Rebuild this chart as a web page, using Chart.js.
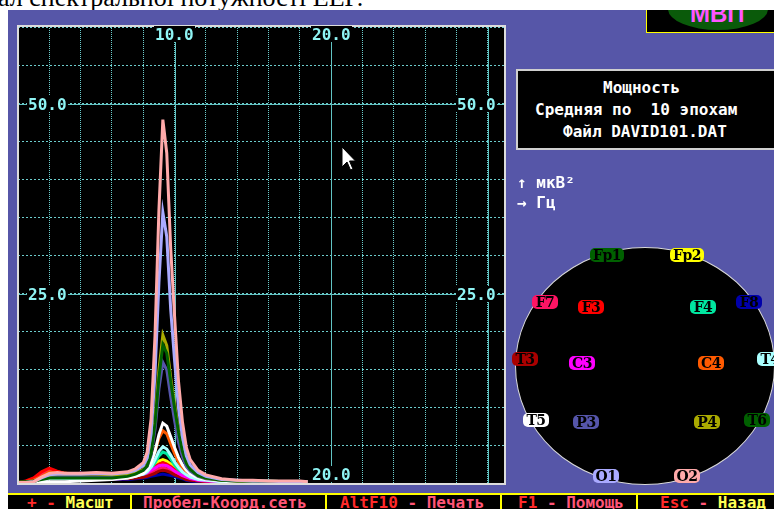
<!DOCTYPE html>
<html lang="ru">
<head>
<meta charset="utf-8">
<title>Мощность — средняя по 10 эпохам</title>
<script src="https://cdn.jsdelivr.net/npm/chart.js@4.4.1/dist/chart.umd.min.js"></script>
<style>
  html, body { margin: 0; padding: 0; }
  body { width: 774px; height: 509px; position: relative; overflow: hidden; background: #fff; }
  .abs { position: absolute; }
  #caption { left: -2px; top: -15px; z-index: 0; font: 26px/26px 'Liberation Serif', serif; color: #000; white-space: nowrap; }
  #panel { left: 8px; top: 10px; width: 766px; height: 499px; background: #5656a8; z-index: 1; }
  #chartWrap { left: 0; top: 0; width: 774px; height: 509px; z-index: 2; }
  .ov { z-index: 3; }
  .dos { font: bold 16px/19px 'DejaVu Sans Mono', monospace; white-space: pre; color: #fff; }
  #mvp { left: 646px; top: 10px; width: 128px; height: 23px; box-sizing: border-box; background: #000;
         border-left: 1px solid #ffff00; border-bottom: 1px solid #ffff00; overflow: hidden; }
  #mvp .ell { left: 21px; top: -22px; width: 100px; height: 42px; border-radius: 50%; background: #0a5a0a; }
  #mvp .txt { left: 43px; top: -8px; font: bold 24px/24px 'Liberation Sans', sans-serif; color: #ff55ff; }
  #infoBox { left: 516px; top: 69px; width: 270px; height: 81px; box-sizing: border-box; background: #000; border: 2px solid #cfcfcf; }
  #head { left: 515px; top: 247px; width: 260px; height: 238px; box-sizing: border-box; border-radius: 50%;
          background: #000; border: 1px solid #d8d8d8; }
  .el { height: 14px; border-radius: 5px; font: bold 14px/14px 'DejaVu Serif', serif; color: #000; text-align: center; letter-spacing: -0.5px; }
  #bar { left: 8px; top: 493px; width: 766px; height: 16px; background: #000; border-top: 2px solid #ffff00; }
  .sep { top: 495px; width: 2px; height: 14px; background: #ffff00; }
  .r { color: #ff2a2a; } .y { color: #ffff55; } .p { color: #ff5577; }
</style>
</head>
<body>
<div id="caption" class="abs">ал спектральної потужності ЕЕГ.</div>
<div id="panel" class="abs"></div>
<div id="chartWrap" class="abs"><canvas id="powerChart"></canvas></div>

<div id="mvp" class="abs ov"><div class="abs ell"></div><div class="abs txt">МВП</div></div>
<div id="infoBox" class="abs ov"></div>
<div class="abs ov dos" style="left:603px;top:78px">Мощность</div>
<div class="abs ov dos" style="left:535px;top:100px">Средняя по  10 эпохам</div>
<div class="abs ov dos" style="left:563px;top:122px">Файл DAVID101.DAT</div>
<div class="abs ov dos" style="left:517px;top:173px">↑ мкВ²</div>
<div class="abs ov dos" style="left:517px;top:193px">→ Гц</div>
<div id="head" class="abs ov"></div>
<div id="electrodes"></div>

<svg class="abs ov" style="left:341px;top:146px" width="16" height="26" viewBox="0 0 16 26">
  <path d="M1 1 L1 21 L6 16 L9.5 24 L12 23 L8.5 15 L14.5 15 Z" fill="#fff" stroke="#000" stroke-width="1"/>
</svg>

<div id="bar" class="abs ov"></div>
<div class="abs ov sep" style="left:130px"></div>
<div class="abs ov sep" style="left:325px"></div>
<div class="abs ov sep" style="left:500px"></div>
<div class="abs ov sep" style="left:636px"></div>
<div class="abs ov dos" style="left:27px;top:493px"><span class="r">+ - </span><span class="y">Масшт</span></div>
<div class="abs ov dos" style="left:143px;top:493px"><span class="p">Пробел-Коорд.сеть</span></div>
<div class="abs ov dos" style="left:340px;top:493px"><span class="r">AltF10</span><span class="p"> - Печать</span></div>
<div class="abs ov dos" style="left:518px;top:493px"><span class="r">F1</span><span class="p"> - Помощь</span></div>
<div class="abs ov dos" style="left:660px;top:493px"><span class="r">Esc</span><span class="p"> - </span><span class="y">Назад</span></div>

<script>
/* ── data: frequency grid (Hz) and power per channel (мкВ²) ── */
const FREQS = [0, 0.5, 1, 1.5, 2, 2.5, 3, 4, 5, 6, 7, 7.5, 8, 8.25, 8.5, 8.75, 9, 9.25, 9.5, 9.75,
               10, 10.25, 10.5, 10.75, 11, 11.5, 12, 13, 14, 15, 16, 17, 18, 18.5];

const CHANNELS  = ['Fp1', 'Fp2', 'F7', 'F3', 'F4', 'F8', 'T3', 'C3', 'C4', 'T4', 'T5', 'P3', 'P4', 'T6', 'O1', 'O2'];
const CH_COLORS = ['#006000', '#ffff00', '#ff1464', '#ff0000', '#00e6a0', '#0000aa', '#aa0000', '#ff00ff',
                   '#ff5a00', '#aaffff', '#ffffff', '#5555aa', '#aaaa00', '#006000', '#aaaaff', '#ffaaaa'];

const FP1 = [0.2,0.3,0.5,1.0,1.5,1.4,1.2,1.0,0.9,0.9,0.9,1.0,1.2,1.4,1.8,2.3,2.7,3.0,2.8,2.4,2.0,1.6,1.2,0.9,0.7,0.5,0.4,0.3,0.3,0.3,0.2,0.2,0.2,0.2];
const FP2 = [0.2,0.3,0.6,1.2,1.7,1.6,1.4,1.2,1.1,1.0,1.0,1.1,1.3,1.6,2.0,2.6,3.0,3.2,3.0,2.6,2.1,1.7,1.3,1.0,0.8,0.6,0.5,0.4,0.3,0.3,0.3,0.3,0.3,0.2];
const F7  = [0.2,0.3,0.7,1.3,1.8,1.5,1.3,1.1,1.0,0.9,0.9,1.0,1.1,1.3,1.5,1.8,2.0,2.2,2.0,1.8,1.5,1.2,1.0,0.8,0.7,0.5,0.4,0.3,0.3,0.3,0.2,0.2,0.2,0.2];
const F3  = [0.2,0.4,0.8,1.6,2.1,1.7,1.4,1.3,1.2,1.1,1.1,1.2,1.4,1.6,1.9,2.3,2.6,2.8,2.6,2.3,1.9,1.5,1.2,1.0,0.8,0.6,0.5,0.4,0.3,0.3,0.3,0.3,0.2,0.2];
const F4  = [0.2,0.2,0.3,0.6,0.9,0.9,0.8,0.8,0.8,0.8,0.9,1.0,1.2,1.5,2.0,2.8,3.7,4.2,4.0,3.3,2.5,1.9,1.4,1.1,0.8,0.6,0.5,0.3,0.3,0.3,0.3,0.2,0.2,0.2];
const F8  = [0.2,0.2,0.4,0.8,1.1,1.2,1.0,0.8,0.7,0.6,0.6,0.7,0.8,0.9,1.0,1.1,1.2,1.3,1.2,1.1,1.0,0.8,0.7,0.5,0.4,0.3,0.3,0.2,0.2,0.2,0.2,0.2,0.2,0.2];
const T3  = [0.2,0.2,0.4,0.7,1.0,0.9,0.8,0.8,0.7,0.7,0.7,0.8,0.9,1.0,1.2,1.4,1.7,1.8,1.7,1.5,1.2,1.0,0.8,0.6,0.5,0.4,0.3,0.3,0.2,0.2,0.2,0.2,0.2,0.2];
const C3  = [0.2,0.2,0.4,0.8,1.2,1.2,1.2,1.4,1.2,1.0,1.0,1.1,1.3,1.5,1.8,2.1,2.4,2.5,2.4,2.1,1.7,1.4,1.1,0.9,0.7,0.5,0.4,0.3,0.3,0.3,0.3,0.2,0.2,0.2];
const C4  = [0.2,0.3,0.5,1.0,1.6,1.4,1.2,1.1,1.0,0.9,1.0,1.2,1.6,2.0,2.9,4.3,6.0,7.0,6.6,5.3,4.0,2.9,2.1,1.5,1.1,0.8,0.6,0.4,0.4,0.3,0.3,0.3,0.3,0.2];
const T4  = [0.2,0.2,0.3,0.5,0.7,0.7,0.7,0.7,0.7,0.7,0.8,1.0,1.3,1.6,2.2,3.2,4.3,4.9,4.6,3.8,2.9,2.2,1.6,1.2,0.9,0.6,0.5,0.3,0.3,0.3,0.3,0.2,0.2,0.2];
const T5  = [0.2,0.2,0.2,0.3,0.3,0.3,0.3,0.4,0.5,0.6,0.8,1.0,1.4,1.9,2.8,4.3,6.5,8.0,7.6,6.2,4.8,3.5,2.5,1.8,1.3,0.8,0.6,0.4,0.3,0.3,0.3,0.3,0.2,0.2];
const P3  = [0.2,0.2,0.3,0.7,1.0,1.1,1.1,1.1,1.1,1.1,1.2,1.4,1.8,2.3,3.8,7.2,12.5,16.0,15.0,11.5,8.3,5.5,3.6,2.3,1.7,1.0,0.7,0.5,0.4,0.4,0.3,0.3,0.3,0.3];
const P4  = [0.2,0.2,0.3,0.7,1.1,1.3,1.3,1.3,1.3,1.2,1.3,1.5,1.9,2.5,4.3,8.5,15.0,19.6,18.2,14.0,10.5,7.0,4.5,2.8,2.0,1.1,0.8,0.5,0.4,0.4,0.4,0.3,0.3,0.3];
const T6  = [0.3,0.3,0.4,0.6,0.8,0.8,0.8,0.8,0.8,0.8,1.0,1.3,1.8,2.4,4.0,8.0,14.0,18.3,17.2,13.5,10.0,6.8,4.3,2.7,1.9,1.1,0.8,0.5,0.4,0.4,0.4,0.3,0.3,0.3];
const O1  = [0.2,0.2,0.3,0.8,1.2,1.3,1.3,1.3,1.4,1.3,1.5,1.8,2.4,3.4,6.6,14.5,26.5,35.7,32.5,23.0,16.2,10.0,6.2,3.7,2.5,1.5,1.0,0.6,0.5,0.4,0.4,0.3,0.3,0.3];
const O2  = [0.2,0.2,0.3,0.9,1.4,1.5,1.4,1.4,1.5,1.4,1.6,2.0,2.8,4.2,8.6,19.5,36.0,47.9,43.5,31.0,22.0,13.5,8.2,4.8,3.2,1.8,1.2,0.7,0.5,0.5,0.4,0.4,0.4,0.3];

const SERIES = [FP1, FP2, F7, F3, F4, F8, T3, C3, C4, T4, T5, P3, P4, T6, O1, O2];

/* ── axis ranges, major lines and tick labels ── */
const X_MAX = 31.1, Y_MAX = 60.2;
const X_MAJOR = [10, 20, 30];
const Y_MAJOR = [25, 50];
const X_TOP_LABELS = [10, 20];
const X_BOTTOM_LABELS = [20];
const Y_LABELS = [25, 50];

/* ── layout only: electrode tag centres on the head scheme ── */
const ELECTRODE_POS = {
  Fp1: [607, 255], Fp2: [687, 255], F7: [545, 302], F3: [591, 307], F4: [703, 307], F8: [749, 302],
  T3: [525, 359], C3: [582, 363], C4: [711, 363], T4: [770, 359], T5: [536, 420], P3: [586, 422],
  P4: [707, 422], T6: [757, 420], O1: [606, 476], O2: [687, 476],
};

const GRID   = '#6ccccc';
const MAJOR  = '#62c4c4';
const LABEL  = '#8ff4f4';
const FRAME  = '#dcdcdc';
const DOS_FONT = 'bold 16px "DejaVu Sans Mono", monospace';

// electrode tags
const elHost = document.getElementById('electrodes');
CHANNELS.forEach((name, i) => {
  const [cx, cy] = ELECTRODE_POS[name];
  const w = name.length > 2 ? 34 : 26;
  const d = document.createElement('div');
  d.className = 'abs ov el';
  d.textContent = name;
  d.style.left = (cx - w / 2) + 'px';
  d.style.top = (cy - 7) + 'px';
  d.style.width = w + 'px';
  d.style.background = CH_COLORS[i];
  elHost.appendChild(d);
});

function drawTag(ctx, text, cx, cy) {
  ctx.font = DOS_FONT;
  const w = ctx.measureText(text).width;
  ctx.fillStyle = '#000';
  ctx.fillRect(Math.round(cx - w / 2) - 1, cy - 8, Math.round(w) + 2, 16);
  ctx.fillStyle = LABEL;
  ctx.textAlign = 'left';
  ctx.textBaseline = 'alphabetic';
  ctx.fillText(text, Math.round(cx - w / 2), cy + 6);
}

const dosPlot = {
  id: 'dosPlot',
  beforeDraw(chart) {
    const { ctx, chartArea: a } = chart;
    ctx.save();
    ctx.fillStyle = '#000';
    ctx.fillRect(a.left, a.top, a.right - a.left, a.bottom - a.top);
    ctx.restore();
  },
  beforeDatasetsDraw(chart) {
    const { ctx, chartArea: a, scales: { x, y } } = chart;
    ctx.save();
    ctx.strokeStyle = MAJOR;
    ctx.lineWidth = 1;
    ctx.beginPath();
    X_MAJOR.forEach(v => {
      const px = Math.round(x.getPixelForValue(v)) + 0.5;
      ctx.moveTo(px, a.top); ctx.lineTo(px, a.bottom);
    });
    Y_MAJOR.forEach(v => {
      const py = Math.round(y.getPixelForValue(v)) + 0.5;
      ctx.moveTo(a.left, py); ctx.lineTo(a.right, py);
    });
    ctx.stroke();
    ctx.restore();
  },
  afterDatasetsDraw(chart) {
    const { ctx, chartArea: a, scales: { x, y } } = chart;
    ctx.save();
    ctx.strokeStyle = FRAME;
    ctx.lineWidth = 2;
    ctx.strokeRect(a.left, a.top, a.right - a.left, a.bottom - a.top);
    X_TOP_LABELS.forEach(v => drawTag(ctx, v.toFixed(1), x.getPixelForValue(v), a.top + 8));
    X_BOTTOM_LABELS.forEach(v => drawTag(ctx, v.toFixed(1), x.getPixelForValue(v), a.bottom - 10));
    Y_LABELS.forEach(v => {
      const py = Math.round(y.getPixelForValue(v));
      drawTag(ctx, v.toFixed(1), a.left + 29, py);
      drawTag(ctx, v.toFixed(1), a.right - 29, py);
    });
    ctx.restore();
  }
};

new Chart(document.getElementById('powerChart'), {
  type: 'line',
  data: {
    datasets: SERIES.map((vals, i) => ({
      label: CHANNELS[i],
      data: FREQS.map((f, j) => ({ x: f, y: vals[j] })),
      borderColor: CH_COLORS[i],
      backgroundColor: CH_COLORS[i],
      borderWidth: 3,
      pointRadius: 0,
      tension: 0,
      fill: false,
      order: CHANNELS.length - i,
    }))
  },
  options: {
    responsive: true,
    maintainAspectRatio: false,
    animation: false,
    events: [],
    layout: { padding: { left: 18, top: 26, right: 269, bottom: 25 } },
    plugins: { legend: { display: false }, tooltip: { enabled: false } },
    scales: {
      x: {
        type: 'linear', min: 0, max: X_MAX,
        ticks: { display: false, stepSize: 2, includeBounds: false },
        grid: { color: GRID, lineWidth: 1, drawTicks: false },
        border: { display: false, dash: [1, 1] },
      },
      y: {
        type: 'linear', min: 0, max: Y_MAX,
        ticks: { display: false, stepSize: 5, includeBounds: false },
        grid: { color: GRID, lineWidth: 1, drawTicks: false },
        border: { display: false, dash: [2, 2] },
      }
    }
  },
  plugins: [dosPlot]
});
</script>
</body>
</html>
